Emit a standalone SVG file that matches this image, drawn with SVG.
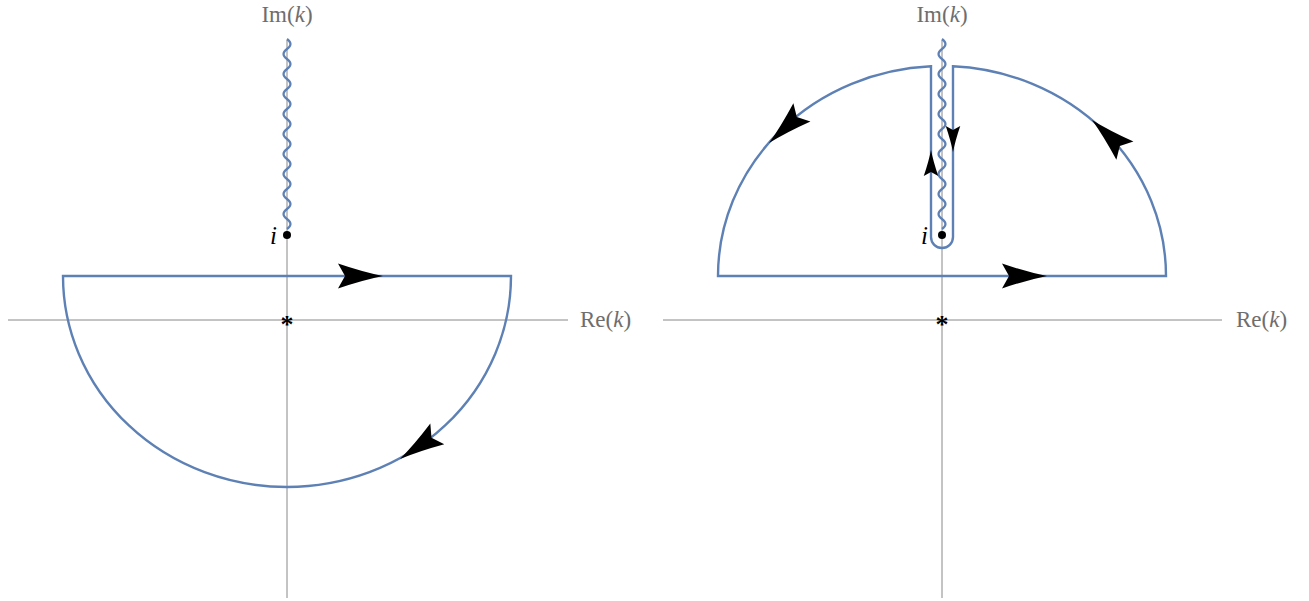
<svg xmlns="http://www.w3.org/2000/svg" width="1309" height="601" viewBox="0 0 1309 601">
<style>
.axis{stroke:#888888;stroke-width:1;fill:none}
.lbl{font-family:"Liberation Serif",serif;font-size:23px;fill:#6e6e6e}
.it{font-style:italic}
.contour{stroke:#5e81b5;stroke-width:2.4;fill:none;stroke-linejoin:miter}
.wave{stroke:#5e81b5;stroke-width:2.2;fill:none}
.pt{fill:#000}
.ilbl{font-family:"Liberation Serif",serif;font-size:25px;font-style:italic;fill:#000}
.star{font-family:"Liberation Serif",serif;font-size:26px;font-weight:bold;fill:#000}
</style>
<defs>
<path id="ah" d="M0,0 Q-20,-4 -45,-12.5 L-38,0 L-45,12.5 Q-20,4 0,0 Z" fill="#000"/>
<path id="wv" d="M0,0 q7,5 0,10 q-7,5 0,10 q7,5 0,10 q-7,5 0,10 q7,5 0,10 q-7,5 0,10 q7,5 0,10 q-7,5 0,10 q7,5 0,10 q-7,5 0,10 q7,5 0,10 q-7,5 0,10 q7,5 0,10 q-7,5 0,10 q7,5 0,10 q-7,5 0,10 q7,5 0,10 q-7,5 0,10 q7,5 0,10"/>
</defs>
<g id="left-panel">
  <g id="left-axes">
    <line class="axis" x1="8" y1="320" x2="568" y2="320"/>
    <line class="axis" x1="287" y1="40" x2="287" y2="598"/>
    <text class="lbl" x="580" y="327">Re(<tspan class="it">k</tspan>)</text>
    <text class="lbl" x="287" y="22" text-anchor="middle">Im(<tspan class="it">k</tspan>)</text>
  </g>
  <g id="left-cut">
    <use href="#wv" class="wave" x="287" y="39"/>
  </g>
  <g id="left-point-i">
    <circle class="pt" cx="287" cy="235" r="4"/>
    <text class="ilbl" x="277" y="244" text-anchor="end">i</text>
  </g>
  <g id="left-origin">
    <text class="star" x="287" y="333" text-anchor="middle">*</text>
  </g>
  <g id="left-contour">
    <path class="contour" d="M63,276 L511,276 A224,211 0 0 1 63,276 Z"/>
    <use href="#ah" transform="translate(383,276)"/>
    <use href="#ah" transform="translate(400,459) rotate(146)"/>
  </g>
</g>
<g id="right-panel">
  <g id="right-axes">
    <line class="axis" x1="663" y1="320" x2="1222" y2="320"/>
    <line class="axis" x1="942" y1="40" x2="942" y2="598"/>
    <text class="lbl" x="1236" y="327">Re(<tspan class="it">k</tspan>)</text>
    <text class="lbl" x="942" y="22" text-anchor="middle">Im(<tspan class="it">k</tspan>)</text>
  </g>
  <g id="right-cut">
    <use href="#wv" class="wave" x="942" y="39"/>
  </g>
  <g id="right-point-i">
    <circle class="pt" cx="942" cy="235" r="4"/>
    <text class="ilbl" x="928" y="244" text-anchor="end">i</text>
  </g>
  <g id="right-origin">
    <text class="star" x="942" y="333" text-anchor="middle">*</text>
  </g>
  <g id="right-contour">
    <path class="contour" d="M718,276 L1166,276 A224,210 0 0 0 953,66.3 L953,237 A11,11 0 0 1 931,237 L931,66.3 A224,210 0 0 0 718,276 Z"/>
    <use href="#ah" transform="translate(1047,276)"/>
    <use href="#ah" transform="translate(769,143) rotate(137)"/>
    <use href="#ah" transform="translate(1092,120) rotate(223)"/>
    <use href="#ah" transform="translate(953,152) rotate(90) scale(0.58)"/>
    <use href="#ah" transform="translate(931,150) rotate(-90) scale(0.58)"/>
  </g>
</g>
</svg>
